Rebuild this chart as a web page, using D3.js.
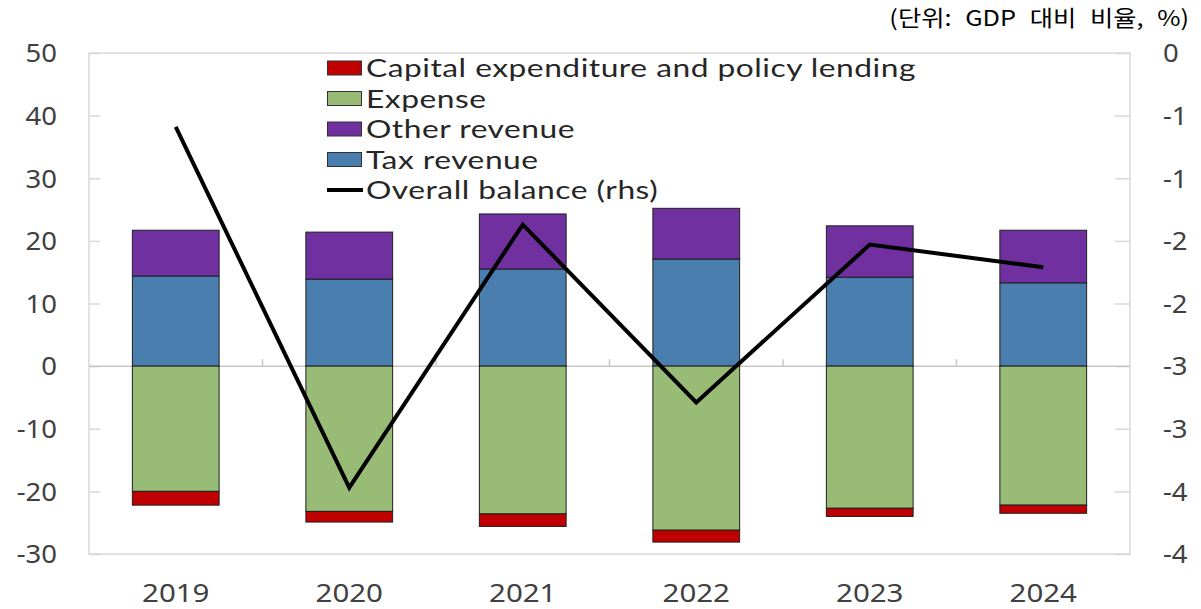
<!DOCTYPE html>
<html>
<head>
<meta charset="utf-8">
<script src="https://cdn.jsdelivr.net/npm/d3@7"></script>
<style>
  html, body { margin: 0; padding: 0; background: #fff; }
  svg { display: block; }
</style>
</head>
<body>
<svg id="chart" width="1201" height="609"></svg>
<script>
// Fiscal components, % of GDP
const years = ["2019", "2020", "2021", "2022", "2023", "2024"];
const taxRevenue = [14.4, 13.9, 15.5, 17.1, 14.2, 13.3];
const otherRevenue = [7.3, 7.5, 8.8, 8.1, 8.2, 8.4];
const expense = [-20.0, -23.2, -23.6, -26.2, -22.7, -22.2];
const capitalExpenditure = [-2.2, -1.7, -2.0, -1.9, -1.3, -1.3];
const overallBalance = [-0.59, -3.47, -1.37, -2.79, -1.53, -1.71];
const leftTicks = [50, 40, 30, 20, 10, 0, -10, -20, -30];
const rightTicks = [0, -0.5, -1, -1.5, -2, -2.5, -3, -3.5, -4];
const unitLabel = "(단위: GDP 대비 비율, %)";

const colors = {
  capex: "#c00000",
  expense: "#98bb76",
  other: "#7030a0",
  tax: "#4a7eae"
};

const svg = d3.select("#chart");
const font = "'Noto Sans', 'Open Sans', sans-serif";
const legendFont = "Lato, 'Noto Sans', sans-serif";
const textColor = "#404040";
const stretch = 1.18; // wide lettering

// widen a text element around its own anchor point
function widen(sel, sx) {
  sel.each(function () {
    const t = d3.select(this);
    const xv = +t.attr("x") || 0;
    t.attr("x", xv / sx).attr("transform", `scale(${sx},1)`);
  });
}

const plot = { left: 89, right: 1130, top: 53, bottom: 554 };

const x = d3.scaleBand().domain(years).range([plot.left, plot.right]).paddingInner(0.5).paddingOuter(0.25);
const y = d3.scaleLinear().domain([-30, 50]).range([plot.bottom, plot.top]);
const y2 = d3.scaleLinear().domain([-4, 0]).range([plot.bottom, plot.top]);
const cat = d3.scaleBand().domain(years).range([plot.left, plot.right]);

// plot frame
svg.append("rect")
  .attr("x", plot.left).attr("y", plot.top)
  .attr("width", plot.right - plot.left).attr("height", plot.bottom - plot.top)
  .attr("fill", "none").attr("stroke", "#d9d9d9").attr("stroke-width", 1.5);

// left axis: inward ticks and labels
const leftAxis = d3.axisLeft(y).tickValues(leftTicks).tickSize(-11).tickPadding(0).tickFormat(d3.format("d"));
const gL = svg.append("g").attr("transform", `translate(${plot.left},0)`).call(leftAxis);
gL.select(".domain").remove();
gL.selectAll(".tick line").attr("stroke", "#d9d9d9").attr("stroke-width", 1.5);
gL.selectAll(".tick text").attr("x", -32).attr("dy", "0.35em")
  .style("font-family", font).style("font-size", "25px").attr("fill", textColor)
  .text(d => d < 0 ? "-" + Math.abs(d) : d)
  .call(widen, 1.1);

// right axis: Excel-style integer rounding of half steps
const roundAway = v => v < 0 ? -Math.round(-v) : Math.round(v);
const rightAxis = d3.axisRight(y2).tickValues(rightTicks).tickSize(-15).tickPadding(0)
  .tickFormat(d => { const r = roundAway(d); return r < 0 ? "-" + Math.abs(r) : String(r); });
const gR = svg.append("g").attr("transform", `translate(${plot.right},0)`).call(rightAxis);
gR.select(".domain").remove();
gR.selectAll(".tick line").attr("stroke", "#d9d9d9").attr("stroke-width", 1.5);
gR.selectAll(".tick text").attr("x", 33).attr("dy", "0.35em")
  .style("font-family", font).style("font-size", "25px").attr("fill", textColor)
  .call(widen, 1.1);

// zero line with category separators
svg.append("line")
  .attr("x1", plot.left).attr("x2", plot.right)
  .attr("y1", y(0)).attr("y2", y(0))
  .attr("stroke", "#c8c8c8").attr("stroke-width", 1.5);
svg.append("g").selectAll("line")
  .data(years.slice(1))
  .join("line")
  .attr("x1", d => cat(d)).attr("x2", d => cat(d))
  .attr("y1", y(0)).attr("y2", y(0) - 7)
  .attr("stroke", "#c8c8c8").attr("stroke-width", 1.5);

// x axis labels
const xAxis = d3.axisBottom(cat).tickSize(0).tickPadding(0);
const gX = svg.append("g").attr("transform", `translate(0,${plot.bottom})`).call(xAxis);
gX.select(".domain").remove();
gX.selectAll(".tick text").attr("y", 30).attr("dy", "0.71em")
  .style("font-family", font).style("font-size", "25px").attr("fill", textColor)
  .call(widen, stretch);

// stacked bars
const segments = [];
years.forEach((yr, i) => {
  segments.push({ yr, y0: 0, y1: taxRevenue[i], fill: colors.tax });
  segments.push({ yr, y0: taxRevenue[i], y1: taxRevenue[i] + otherRevenue[i], fill: colors.other });
  segments.push({ yr, y0: 0, y1: expense[i], fill: colors.expense });
  segments.push({ yr, y0: expense[i], y1: expense[i] + capitalExpenditure[i], fill: colors.capex });
});
svg.append("g").selectAll("rect")
  .data(segments)
  .join("rect")
  .attr("x", d => x(d.yr))
  .attr("width", x.bandwidth())
  .attr("y", d => y(Math.max(d.y0, d.y1)))
  .attr("height", d => Math.abs(y(d.y0) - y(d.y1)))
  .attr("fill", d => d.fill)
  .attr("stroke", "#1f1f1f").attr("stroke-width", 1);

// overall balance line on the right-hand scale
const line = d3.line()
  .x((d, i) => cat(years[i]) + cat.bandwidth() / 2)
  .y(d => y2(d));
svg.append("path")
  .datum(overallBalance)
  .attr("d", line)
  .attr("fill", "none").attr("stroke", "#000").attr("stroke-width", 4)
  .attr("stroke-linejoin", "miter");

// legend
const legendItems = [
  { label: "Capital expenditure and policy lending", fill: colors.capex },
  { label: "Expense", fill: colors.expense },
  { label: "Other revenue", fill: colors.other },
  { label: "Tax revenue", fill: colors.tax },
  { label: "Overall balance (rhs)", line: true }
];
const lg = svg.append("g").attr("transform", "translate(327,68)");
legendItems.forEach((it, i) => {
  const g = lg.append("g").attr("transform", `translate(0,${i * 30.5})`);
  if (it.line) {
    g.append("line").attr("x1", 0).attr("x2", 36).attr("y1", 0).attr("y2", 0)
      .attr("stroke", "#000").attr("stroke-width", 4);
  } else {
    g.append("rect").attr("x", 0.5).attr("y", -7).attr("width", 34).attr("height", 14)
      .attr("fill", it.fill).attr("stroke", "#333").attr("stroke-width", 1);
  }
  g.append("text").attr("x", 39).attr("y", 0).attr("dy", "0.36em")
    .style("font-family", legendFont).style("font-size", "25px").attr("fill", "#262626")
    .style("letter-spacing", "0.4px")
    .text(it.label)
    .call(widen, 1.27);
});

// unit note
svg.append("text")
  .attr("x", 1189).attr("y", 18).attr("dy", "0.35em")
  .attr("text-anchor", "end")
  .style("font-family", "'Noto Sans CJK KR', sans-serif").style("font-size", "22px")
  .style("word-spacing", "7px")
  .attr("fill", "#000")
  .text(unitLabel)
  .call(widen, 1.15);
</script>
</body>
</html>
